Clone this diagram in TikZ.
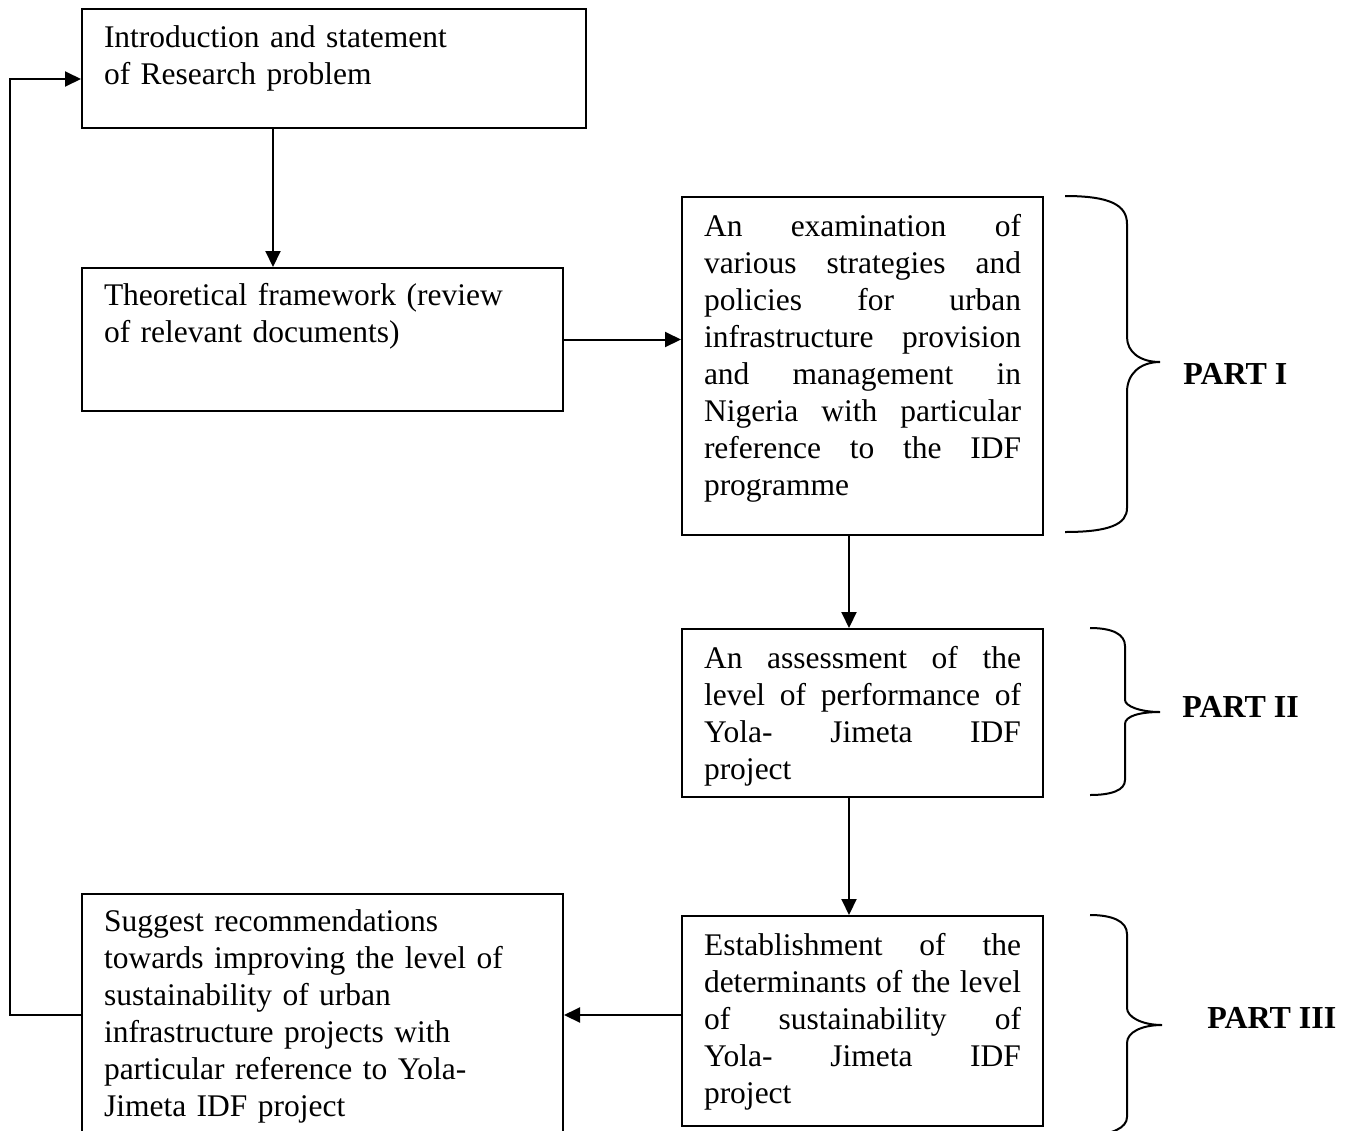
\documentclass[tikz,border=0pt]{standalone}
\usepackage{fontspec}
\setmainfont{Liberation Serif}
\usetikzlibrary{arrows.meta}
\tolerance=10000
\hbadness=10000
\tikzset{
  stagebox/.style={draw, line width=1pt, anchor=north west, inner xsep=11pt, inner ysep=0pt,
    font=\fontsize{15.75pt}{18.5pt}\selectfont},
  flow/.style={line width=1pt, -{Triangle[length=8pt,width=7.5pt]}},
  partbrace/.style={line width=1pt},
  partlabel/.style={anchor=base west, inner sep=0pt, font=\fontsize{16pt}{18.5pt}\selectfont\bfseries}
}
\begin{document}
\begin{tikzpicture}[x=0.5pt, y=-0.5pt]
\clip (0,0) rectangle (1349,1130);

\node[stagebox, text width=230pt, align=left, text height=19pt, text depth=40.5pt] (intro) at (81,8)
  {Introduction and statement\\of Research problem};
\node[stagebox, text width=218.5pt, align=left, text height=18.5pt, text depth=53pt] (theory) at (81,267)
  {Theoretical framework (review\\of relevant documents)};
\node[stagebox, text width=158.5pt, align=justify, text height=19.5pt, text depth=149.5pt] (exam) at (681,196)
  {An examination of\linebreak various strategies and\linebreak policies for urban\linebreak
   infrastructure provision\linebreak and management in\linebreak Nigeria with particular\linebreak
   reference to the IDF\linebreak programme};
\node[stagebox, text width=158.5pt, align=justify, text height=19.5pt, text depth=64.5pt] (assess) at (681,628)
  {An assessment of the\linebreak level of performance of\linebreak Yola- Jimeta IDF\linebreak project};
\node[stagebox, text width=158.5pt, align=justify, text height=19.5pt, text depth=85.5pt] (determ) at (681,915)
  {Establishment of the\linebreak determinants of the level\linebreak of sustainability of\linebreak
   Yola- Jimeta IDF\linebreak project};
\node[stagebox, text width=218.5pt, align=left, text height=18.5pt, text depth=102.5pt] (suggest) at (81,893)
  {Suggest recommendations\\towards improving the level of\\sustainability of urban\\
   infrastructure projects with\\particular reference to Yola-\\Jimeta IDF project};

\draw[flow] ([xshift=96pt]intro.south west) -- ([xshift=96pt]theory.north west);
\draw[flow] (theory.east) -- (theory.east -| exam.west);
\draw[flow] ([xshift=84pt]exam.south west) -- ([xshift=84pt]assess.north west);
\draw[flow] ([xshift=84pt]assess.south west) -- ([xshift=84pt]determ.north west);
\draw[flow] (suggest.east -| determ.west) -- (suggest.east);
\draw[flow] (suggest.west) -- ++(-35.5pt,0) |- ([yshift=-5.25pt]intro.west);

\draw[partbrace] (1065,196) .. controls (1110,196) and (1127,205) .. (1127,224) -- (1127,337)
  .. controls (1127,352) and (1140,362) .. (1160,362) .. controls (1140,362) and (1127,374) .. (1127,392)
  -- (1127,508) .. controls (1127,524) and (1110,532) .. (1065,532);
\draw[partbrace] (1090,628) .. controls (1112,628) and (1125,634) .. (1125,646) -- (1125,700)
  .. controls (1125,706) and (1140,712) .. (1160,712) .. controls (1140,712) and (1125,716) .. (1125,724)
  -- (1125,780) .. controls (1125,790) and (1112,795) .. (1090,795);
\draw[partbrace] (1090,915) .. controls (1112,915) and (1127,921) .. (1127,934) -- (1127,1008)
  .. controls (1127,1017) and (1142,1025) .. (1162,1025) .. controls (1142,1025) and (1127,1032) .. (1127,1043)
  -- (1127,1117) .. controls (1127,1128) and (1112,1134) .. (1090,1136);

\node[partlabel] (part1) at (1183,384) {PART I};
\node[partlabel] (part2) at (1182,717) {PART II};
\node[partlabel] (part3) at (1207,1028) {PART III};
\end{tikzpicture}
\end{document}
